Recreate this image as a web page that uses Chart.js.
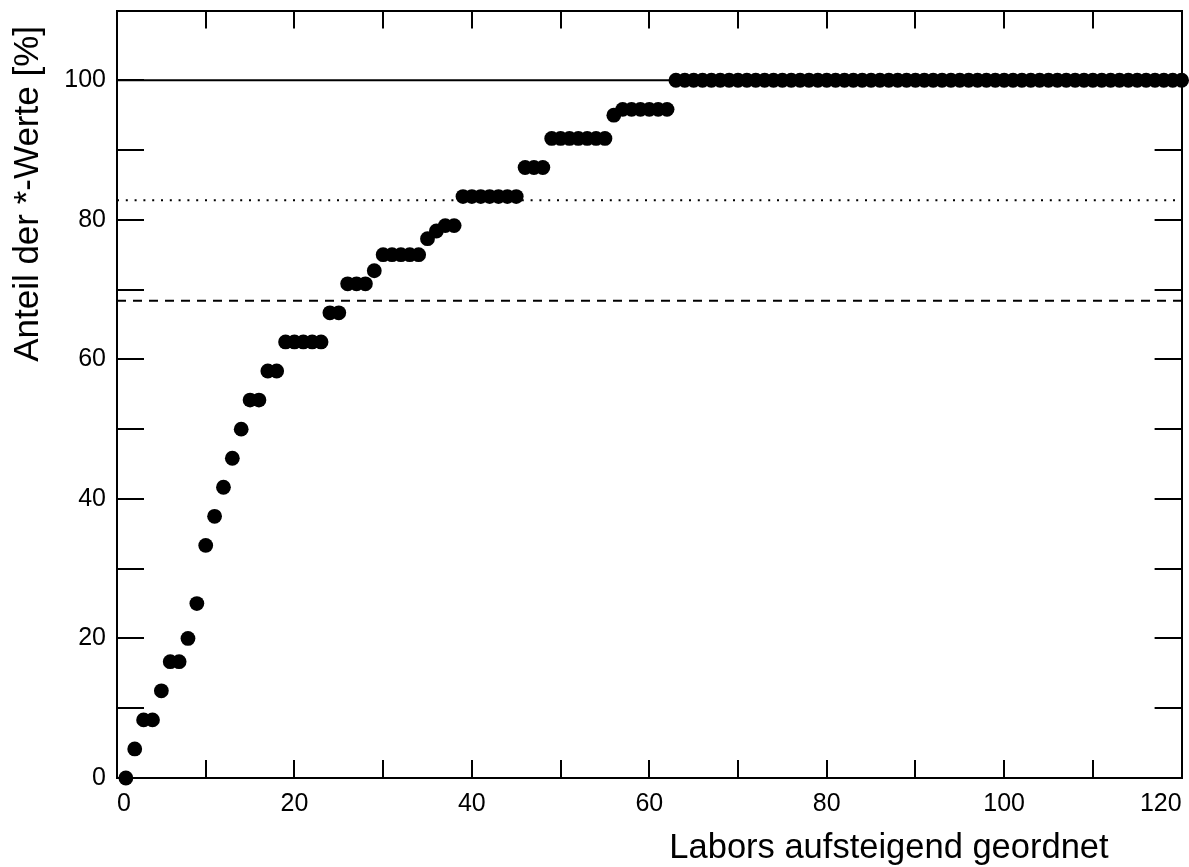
<!DOCTYPE html>
<html>
<head>
<meta charset="utf-8">
<script src="https://cdn.jsdelivr.net/npm/chart.js@4/dist/chart.umd.min.js"></script>
<style>
  body { margin: 0; background: #fff; }
  #wrap { width: 1189px; height: 867px; position: relative; }
</style>
</head>
<body>
<div id="wrap"><canvas id="chart"></canvas></div>
<script>
// Anteil der *-Werte je Labor (Labore aufsteigend geordnet, Rang 1..120)
const anteil = [
    0, 4.17, 8.33, 8.33, 12.5, 16.67, 16.67, 20, 25, 33.33,
    37.5, 41.67, 45.83, 50, 54.17, 54.17, 58.33, 58.33, 62.5, 62.5,
    62.5, 62.5, 62.5, 66.67, 66.67, 70.83, 70.83, 70.83, 72.7, 75,
    75, 75, 75, 75, 77.3, 78.4, 79.17, 79.17, 83.33, 83.33,
    83.33, 83.33, 83.33, 83.33, 83.33, 87.5, 87.5, 87.5, 91.67, 91.67,
    91.67, 91.67, 91.67, 91.67, 91.67, 95, 95.83, 95.83, 95.83, 95.83,
    95.83, 95.83, 100, 100, 100, 100, 100, 100, 100, 100,
    100, 100, 100, 100, 100, 100, 100, 100, 100, 100,
    100, 100, 100, 100, 100, 100, 100, 100, 100, 100,
    100, 100, 100, 100, 100, 100, 100, 100, 100, 100,
    100, 100, 100, 100, 100, 100, 100, 100, 100, 100,
    100, 100, 100, 100, 100, 100, 100, 100, 100, 100
];

// horizontal reference levels
const levelSolid = 100;
const levelDotted = 82.8;
const levelDashed = 68.4;

const xRange = [0, 120];
const yRange = [0, 110];
const xTitle = 'Labors aufsteigend geordnet';
const yTitle = 'Anteil der *-Werte [%]';

const fontFamily = '"Liberation Sans", Arial, Helvetica, sans-serif';

const points = anteil.map((v, i) => ({ x: i + 1, y: v }));

function levelLine(y, dash) {
    return {
        type: 'line',
        data: [{ x: xRange[0], y: y }, { x: xRange[1], y: y }],
        borderColor: '#000',
        borderWidth: 2,
        borderDash: dash,
        pointRadius: 0,
        showLine: true,
        fill: false,
        order: 1
    };
}

// axis titles placed like in the original plot
const axisTitles = {
    id: 'axisTitles',
    afterDraw(chart) {
        const ctx = chart.ctx;
        const area = chart.chartArea;
        ctx.save();
        ctx.fillStyle = '#000';
        ctx.textAlign = 'right';
        ctx.textBaseline = 'alphabetic';
        ctx.font = '34.5px ' + fontFamily;
        ctx.fillText(xTitle, area.right - 73, 858);
        ctx.font = '35px ' + fontFamily;
        ctx.translate(38, 26);
        ctx.rotate(-Math.PI / 2);
        ctx.fillText(yTitle, 0, 0);
        ctx.restore();
    }
};

// fixed size for each axis box, no extra room for overhanging labels
function fixSize(w, h) {
    return s => {
        if (w !== null) s.width = w;
        if (h !== null) s.height = h;
        s.paddingTop = 0;
        s.paddingBottom = 0;
        s.paddingLeft = 0;
        s.paddingRight = 0;
    };
}

function frameAxis(extra) {
    return Object.assign({
        type: 'linear',
        border: { display: true, color: '#000', width: 2 }
    }, extra);
}

const ctx = document.getElementById('chart').getContext('2d');
new Chart(ctx, {
    type: 'scatter',
    data: {
        datasets: [
            {
                data: points,
                backgroundColor: '#000',
                borderWidth: 0,
                pointRadius: 7.4,
                pointHoverRadius: 7.4,
                clip: false,
                order: 0
            },
            levelLine(levelSolid, []),
            levelLine(levelDotted, [2, 6.8]),
            levelLine(levelDashed, [9, 7])
        ]
    },
    options: {
        responsive: true,
        maintainAspectRatio: false,
        animation: false,
        layout: { padding: { top: 10.5, right: 4, left: 0, bottom: 0 } },
        plugins: { legend: { display: false }, tooltip: { enabled: false } },
        scales: {
            x: frameAxis({
                position: 'bottom',
                min: xRange[0], max: xRange[1],
                grid: { drawOnChartArea: false, color: '#000', tickColor: '#000', lineWidth: 2, tickLength: -18 },
                ticks: {
                    stepSize: 10,
                    align: 'inner',
                    padding: 29,
                    color: '#000',
                    font: { family: fontFamily, size: 25 },
                    maxRotation: 0,
                    autoSkip: false,
                    callback: v => (v % 20 === 0 ? String(v) : '')
                },
                afterFit: fixSize(null, 89)
            }),
            x2: frameAxis({
                position: 'top',
                min: xRange[0], max: xRange[1],
                grid: { drawOnChartArea: false, color: '#000', tickColor: '#000', lineWidth: 2, tickLength: -18 },
                ticks: { stepSize: 10, display: false, autoSkip: false },
                afterFit: fixSize(null, 0)
            }),
            y: frameAxis({
                position: 'left',
                min: yRange[0], max: yRange[1],
                grid: { drawOnChartArea: false, color: '#000', tickColor: '#000', lineWidth: 2, tickLength: -27 },
                ticks: {
                    stepSize: 10,
                    padding: 38,
                    color: '#000',
                    font: { family: fontFamily, size: 25 },
                    autoSkip: false,
                    callback: v => (v % 20 === 0 && v <= 100 ? String(v) : '')
                },
                afterFit: fixSize(117, null)
            }),
            y2: frameAxis({
                position: 'right',
                min: yRange[0], max: yRange[1],
                grid: { drawOnChartArea: false, color: '#000', tickColor: '#000', lineWidth: 2, tickLength: -27 },
                ticks: { stepSize: 10, display: false, autoSkip: false },
                afterFit: fixSize(0, null)
            })
        }
    },
    plugins: [axisTitles]
});
</script>
</body>
</html>
